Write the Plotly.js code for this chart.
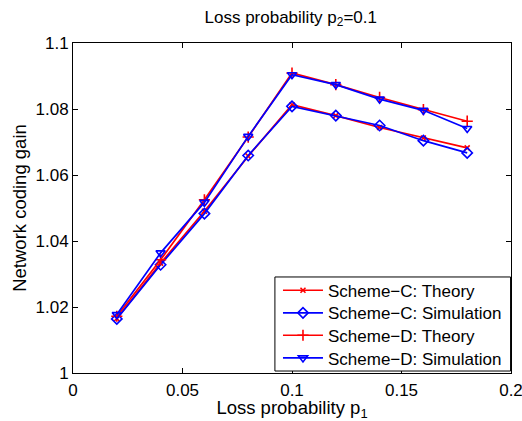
<!DOCTYPE html>
<html><head><meta charset="utf-8">
<script src="https://cdn.plot.ly/plotly-3.0.1.min.js"></script>
<style>html,body{margin:0;padding:0;background:#fff}#chart{width:522px;height:421px}</style>
</head><body><div id="chart"></div>
<script>
const lossP1 = [0.02, 0.04, 0.06, 0.08, 0.10, 0.12, 0.14, 0.16, 0.18];
const schemeCTheory = [1.0165, 1.0333, 1.0490, 1.0657, 1.0813, 1.0780, 1.0744, 1.0712, 1.0682];
const schemeCSim    = [1.0164, 1.0328, 1.0483, 1.0659, 1.0808, 1.0780, 1.0750, 1.0704, 1.0667];
const schemeDTheory = [1.0172, 1.0343, 1.0525, 1.0715, 1.0909, 1.0874, 1.0835, 1.0798, 1.0763];
const schemeDSim    = [1.0177, 1.0364, 1.0517, 1.0717, 1.0904, 1.0874, 1.0830, 1.0796, 1.0741];
const xTicks = [0, 0.05, 0.1, 0.15, 0.2];
const xTickText = ["0", "0.05", "0.1", "0.15", "0.2"];
const yTicks = [1, 1.02, 1.04, 1.06, 1.08, 1.1];
const yTickText = ["1", "1.02", "1.04", "1.06", "1.08", "1.1"];
const names = ["Scheme\u2212C: Theory", "Scheme\u2212C: Simulation", "Scheme\u2212D: Theory", "Scheme\u2212D: Simulation"];

const RED = "#ff0000", BLUE = "#0000ff";
const legendIds = ["legend", "legend2", "legend3", "legend4"];
function tr(y, name, color, symbol, size, lg) {
  return {x: lossP1, y: y, name: name, type: "scatter", mode: "lines+markers", legend: lg,
    line: {color: color, width: 1.7},
    marker: {symbol: symbol, size: size, color: color, line: {color: color, width: 1.6}}};
}
const data = [
  tr(schemeCTheory, names[0], RED, "x-thin", 5, legendIds[0]),
  tr(schemeCSim, names[1], BLUE, "diamond-open", 8, legendIds[1]),
  tr(schemeDTheory, names[2], RED, "cross-thin", 8, legendIds[2]),
  tr(schemeDSim, names[3], BLUE, "triangle-down-open", 8, legendIds[3])
];
const font = {family: "Liberation Sans, Arial, sans-serif", color: "#000"};
function lgd(y) {
  return {x: 0.468, y: y, xanchor: "left", yanchor: "middle", bgcolor: "rgba(0,0,0,0)", borderwidth: 0,
    font: Object.assign({size: 17}, font), itemwidth: 40};
}
const legendY = [0.2494, 0.1809, 0.1130, 0.0445];
const layout = {
  width: 522, height: 421,
  margin: {l: 73, r: 11, t: 43, b: 48},
  paper_bgcolor: "#fff", plot_bgcolor: "#fff",
  font: Object.assign({size: 17}, font),
  title: {text: "Loss probability p<sub>2</sub>=0.1", font: Object.assign({size: 17}, font), x: 0.557, xanchor: "center", y: 0.96, yanchor: "middle"},
  showlegend: true,
  legend: lgd(legendY[0]), legend2: lgd(legendY[1]), legend3: lgd(legendY[2]), legend4: lgd(legendY[3]),
  shapes: [{type: "rect", xref: "paper", yref: "paper", x0: 0.461, x1: 0.999, y0: 0.006, y1: 0.291,
    line: {color: "#000", width: 1}, fillcolor: "#fff", layer: "above"}],
  xaxis: {range: [0, 0.2], tickvals: xTicks, ticktext: xTickText, ticks: "inside", ticklen: 5, tickcolor: "#000",
    showline: true, linecolor: "#000", linewidth: 1, mirror: "ticks", showgrid: false, zeroline: false,
    ticklabeloverflow: "allow", ticklabelstandoff: 2,
    tickfont: Object.assign({size: 17}, font),
    title: {text: "Loss probability p<sub>1</sub>", font: Object.assign({size: 18.5}, font), standoff: 4}},
  yaxis: {range: [1, 1.1], tickvals: yTicks, ticktext: yTickText, ticks: "inside", ticklen: 5, tickcolor: "#000",
    showline: true, linecolor: "#000", linewidth: 1, mirror: "ticks", showgrid: false, zeroline: false,
    tickfont: Object.assign({size: 17}, font),
    title: {text: "Network coding gain", font: Object.assign({size: 18.5}, font), standoff: 4}}
};
Plotly.newPlot("chart", data, layout, {staticPlot: true});
</script></body></html>
